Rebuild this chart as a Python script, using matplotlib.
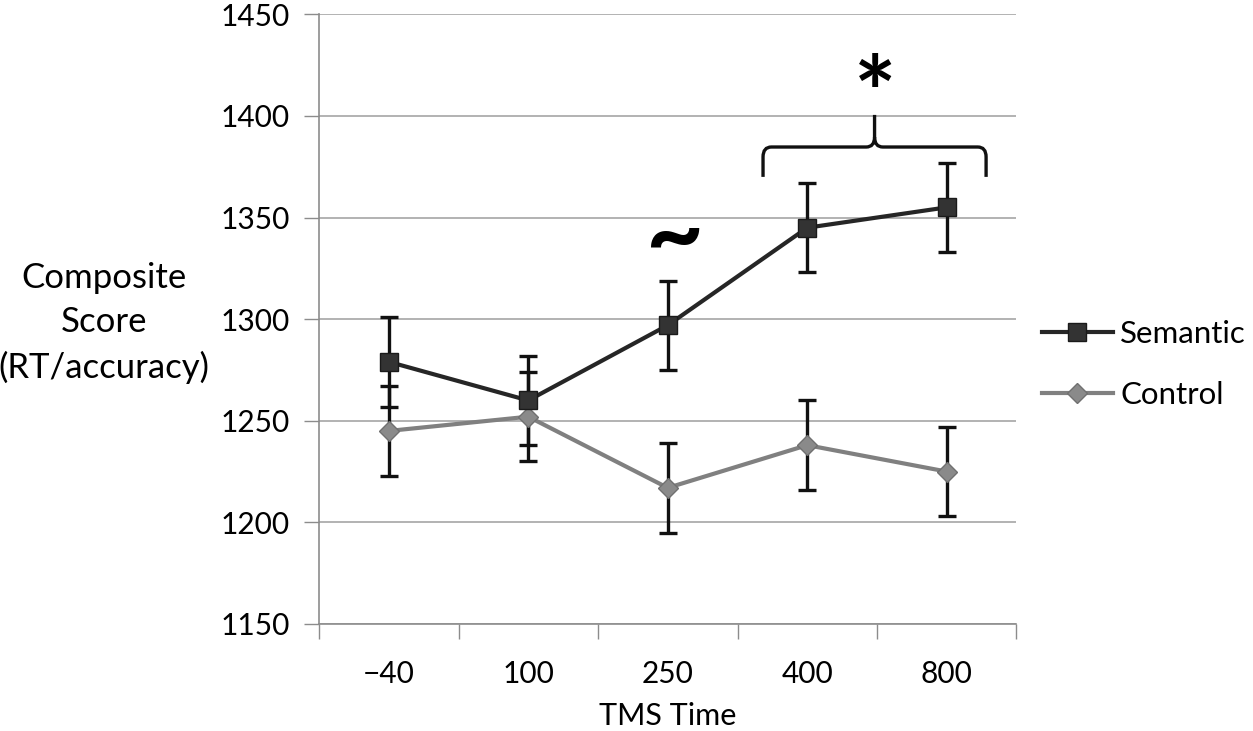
import matplotlib
matplotlib.use("Agg")
import matplotlib.pyplot as plt
from matplotlib.path import Path
from matplotlib.patches import PathPatch

plt.rcParams['font.family'] = ['Lato', 'DejaVu Sans']

# ---- data ----
categories = ['\u221240', '100', '250', '400', '800']
semantic = [1279, 1260, 1297, 1345, 1355]
semantic_err = [22, 22, 22, 22, 22]
control = [1245, 1252, 1217, 1238, 1225]
control_err = [22, 22, 22, 22, 22]
yticks = [1150, 1200, 1250, 1300, 1350, 1400, 1450]

W, H = 1253, 731
fig = plt.figure(figsize=(W / 100, H / 100), dpi=100)
ax = fig.add_axes([319 / W, 1 - 624 / H, (1016.5 - 319) / W, (624 - 14.3) / H])

x = list(range(len(categories)))
grid_c = '#a6a6a6'
spine_c = '#8c8c8c'

# error bars (beneath markers)
ax.errorbar(x, semantic, yerr=semantic_err, fmt='none', ecolor='#111111',
            elinewidth=2.4, capsize=6.5, capthick=2.4, zorder=3)
ax.errorbar(x, control, yerr=control_err, fmt='none', ecolor='#111111',
            elinewidth=2.4, capsize=6.5, capthick=2.4, zorder=3)

ax.plot(x, control, color='#808080', lw=3.0, marker='D', ms=10,
        mfc='#8a8a8a', mec='#707070', mew=1.0, zorder=4, label='Control')
ax.plot(x, semantic, color='#262626', lw=3.0, marker='s', ms=13,
        mfc='#333333', mec='#1a1a1a', mew=1.0, zorder=5, label='Semantic')

ax.set_xlim(-0.5, len(categories) - 0.5)
ax.set_ylim(yticks[0], yticks[-1])
ax.set_yticks(yticks)
ax.set_xticks(x)
ax.set_xticklabels(categories)
ax.set_xticks([i - 0.5 for i in range(len(categories) + 1)], minor=True)
ax.tick_params(axis='x', which='major', length=0, pad=26, labelsize=21.5, colors='#000000')
ax.tick_params(axis='x', which='minor', length=11, width=1.0, color=spine_c, direction='out')
ax.tick_params(axis='y', which='major', length=11, width=1.0, color=spine_c, pad=10,
               labelsize=21.5, labelcolor='#000000')
ax.yaxis.grid(True, color=grid_c, lw=1.2, zorder=0)
ax.set_axisbelow(True)
for s in ['top', 'right']:
    ax.spines[s].set_visible(False)
for s in ['left', 'bottom']:
    ax.spines[s].set_color(spine_c)
    ax.spines[s].set_linewidth(1.2)

ax.set_xlabel('TMS Time', fontsize=22, labelpad=10)

fig.text(104 / W, 1 - 323 / H, 'Composite\nScore\n(RT/accuracy)', ha='center', va='center',
         multialignment='center', fontsize=25, linespacing=1.45)

# legend
handles, labels = ax.get_legend_handles_labels()
leg = fig.legend(handles[::-1], labels[::-1], loc='center left',
                 bbox_to_anchor=(1042 / W, 1 - 364.5 / H), frameon=False, fontsize=22.5,
                 handlelength=2.27, handletextpad=0.23, labelspacing=1.08,
                 borderpad=0, borderaxespad=0)

# significance annotations
ax.text(2.05, 1340, '~', ha='center', va='center', fontsize=72, fontweight='bold')
ax.text(3.49, 1407.5, '*', ha='center', va='center', fontsize=72, fontweight='bold')

# curly brace over 400-800
xL, xR = 3 - 0.317, 4 + 0.282
xC = (xL + xR) / 2
yEnd, yH, yTop = 1370.0, 1384.7, 1400.5
rx, ry = 0.06, 4.9
verts = [(xL, yEnd), (xL, yH - ry), (xL, yH), (xL + rx, yH), (xC - rx, yH), (xC, yH), (xC, yH + ry),
         (xC, yTop),
         (xC, yH + ry), (xC, yH), (xC + rx, yH), (xR - rx, yH), (xR, yH), (xR, yH - ry), (xR, yEnd)]
codes = [Path.MOVETO, Path.LINETO, Path.CURVE3, Path.CURVE3, Path.LINETO, Path.CURVE3, Path.CURVE3,
         Path.LINETO,
         Path.MOVETO, Path.CURVE3, Path.CURVE3, Path.LINETO, Path.CURVE3, Path.CURVE3, Path.LINETO]
ax.add_patch(PathPatch(Path(verts, codes), fill=False, lw=2.4, edgecolor='#111111',
                       capstyle='butt', zorder=6, clip_on=False))

fig.savefig('out.png', dpi=100, facecolor='white')
